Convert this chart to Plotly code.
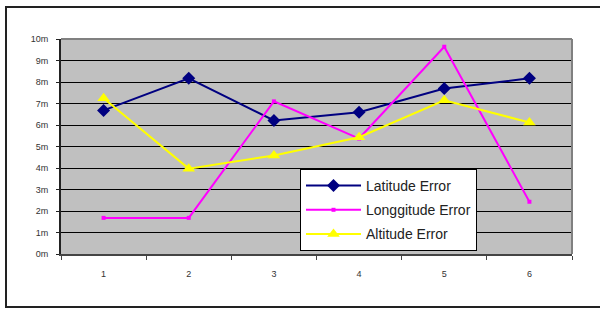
import plotly.graph_objects as go

categories = ["1", "2", "3", "4", "5", "6"]
latitude = [6.68, 8.17, 6.21, 6.59, 7.70, 8.17]
longitude = [1.68, 1.68, 7.10, 5.37, 9.64, 2.43]
altitude = [7.24, 3.97, 4.58, 5.43, 7.15, 6.12]
y_ticks = list(range(0, 11))
y_labels = [f"{v}m" for v in y_ticks]

W, H = 600, 309
L, R, T, B = 61, 28, 39, 55
pw, ph = W - L - R, H - T - B

def px_x(p):
    return (p - L) / pw

def px_y(p):
    return (H - B - p) / ph

fig = go.Figure()
fig.add_trace(go.Scatter(x=categories, y=latitude, name="Latitude Error", mode="lines+markers",
                         legendgroup="a",
                         line=dict(color="#000080", width=2),
                         marker=dict(symbol="diamond", size=10, color="#000080")))
fig.add_trace(go.Scatter(x=categories, y=longitude, name="Longgitude Error", mode="lines+markers",
                         legendgroup="b",
                         line=dict(color="#FF00FF", width=2),
                         marker=dict(symbol="square", size=4, color="#FF00FF")))
fig.add_trace(go.Scatter(x=categories, y=altitude, name="Altitude Error", mode="lines+markers",
                         legendgroup="c",
                         line=dict(color="#FFFF00", width=2),
                         marker=dict(symbol="triangle-up", size=11, color="#FFFF00")))

fig.update_layout(
    width=W, height=H,
    margin=dict(l=L, r=R, t=T, b=B),
    paper_bgcolor="white",
    plot_bgcolor="#C0C0C0",
    font=dict(family="Liberation Sans, Arial, sans-serif", color="#222"),
    showlegend=True,
    legend=dict(x=px_x(300), y=px_y(169), xanchor="left", yanchor="top",
                bgcolor="white", bordercolor="black", borderwidth=1,
                font=dict(size=14, color="#222"), traceorder="grouped",
                tracegroupgap=3, itemwidth=55),
    xaxis=dict(type="category", range=[-0.5, 5.5], showgrid=False, zeroline=False,
               tickson="boundaries", ticks="outside", ticklen=4, tickcolor="#444",
               showline=True, linecolor="#444", linewidth=2, mirror=False,
               tickfont=dict(size=9, color="#333"), ticklabelstandoff=10),
    yaxis=dict(range=[0, 10], tickvals=y_ticks, ticktext=y_labels,
               showgrid=True, gridcolor="black", gridwidth=1, zeroline=False,
               ticks="outside", ticklen=3, tickcolor="#222",
               showline=True, linecolor="#222", linewidth=2,
               tickfont=dict(size=9, color="#333"), ticklabelstandoff=6),
    shapes=[
        dict(type="line", xref="paper", yref="paper", x0=0, x1=1, y0=1, y1=1,
             line=dict(color="#808080", width=2)),
        dict(type="line", xref="paper", yref="paper", x0=1, x1=1, y0=0, y1=1,
             line=dict(color="#808080", width=2)),
        dict(type="rect", xref="paper", yref="paper",
             x0=px_x(6), x1=px_x(608), y0=px_y(307), y1=px_y(7),
             line=dict(color="#222", width=2), layer="below"),
    ],
)

fig.write_html("out.html", config={"displayModeBar": False},
               post_script="document.body.style.margin='0';document.body.style.overflow='hidden';")
